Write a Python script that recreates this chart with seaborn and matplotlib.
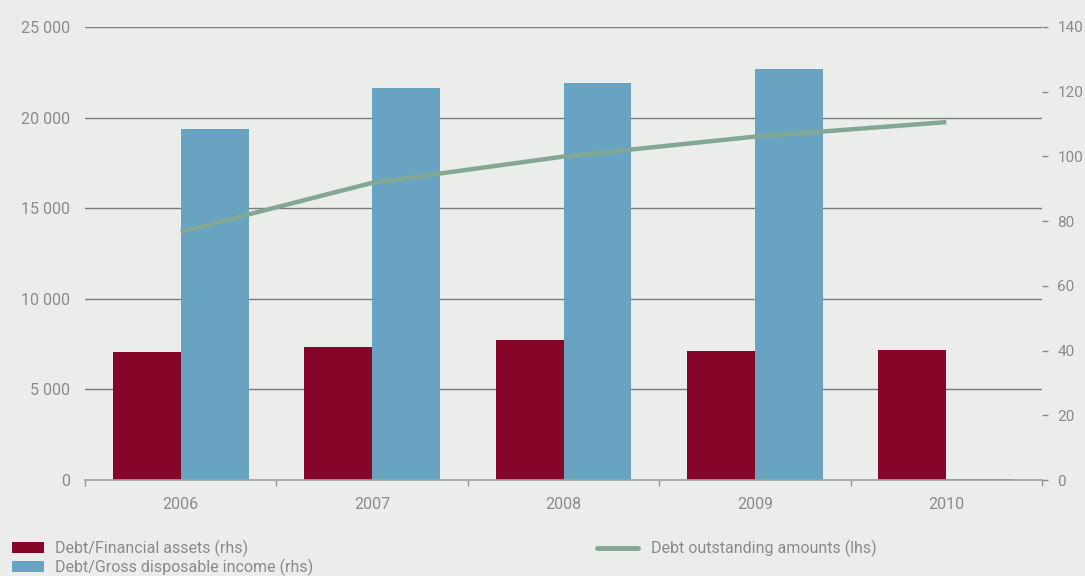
import numpy as np
import pandas as pd
import matplotlib
matplotlib.use("Agg")
import matplotlib.pyplot as plt
import seaborn as sns
from matplotlib.patches import Patch
from matplotlib.lines import Line2D

# data
years = ["2006", "2007", "2008", "2009", "2010"]
debt_fin_assets = [39.6, 41.1, 43.3, 39.9, 40.2]          # rhs
debt_gross_income = [108.5, 121.1, 122.7, 127.0, 0.4]     # rhs
debt_outstanding = [13700, 16400, 17850, 18950, 19750]    # lhs

left_ticks = [0, 5000, 10000, 15000, 20000, 25000]
right_ticks = [0, 20, 40, 60, 80, 100, 120, 140]
series_names = ["Debt/Financial assets (rhs)", "Debt/Gross disposable income (rhs)"]
line_name = "Debt outstanding amounts (lhs)"

BG = "#ebedeb"
MAROON = "#850628"
BLUE = "#68a3c1"
GREEN = "#82a894"
GREY = "#8a8a8a"

sns.set_theme(style="white")
plt.rcParams["font.family"] = ["Roboto", "DejaVu Sans"]

bars = pd.DataFrame({
    "year": years * 2,
    "value": debt_fin_assets + debt_gross_income,
    "series": [series_names[0]] * len(years) + [series_names[1]] * len(years),
})

fig = plt.figure(figsize=(10.85, 5.76), dpi=100, facecolor=BG)
ax = fig.add_axes([85 / 1085, 1 - 480 / 576, (1042 - 85) / 1085, (480 - 27) / 576])
ax.set_facecolor(BG)

# gridlines belong to the left scale, drawn on the bar axis so bars cover them
lmax, rmax = left_ticks[-1], right_ticks[-1]
for t in left_ticks[1:]:
    ax.axhline(t * rmax / lmax, color="#7a7a7a", lw=1.0, zorder=0)

sns.barplot(data=bars, x="year", y="value", hue="series",
            palette=[MAROON, BLUE], width=0.71, saturation=1,
            linewidth=0, ax=ax, legend=False, zorder=2)
ax.set_ylim(0, rmax)
ax.set_xlim(-0.5, len(years) - 0.5)

# x axis: labels at centres, ticks at the category boundaries
ax.set_xticks(range(len(years)))
ax.set_xticklabels(years)
ax.tick_params(axis="x", length=0, labelcolor=GREY, labelsize=11.5, pad=12)
ax.set_xticks(np.arange(len(years) + 1) - 0.5, minor=True)
ax.tick_params(axis="x", which="minor", length=4, width=1, color="#999999",
               bottom=True)
ax.set_xlabel("")
ax.set_ylabel("")
for side in ["top", "left", "right"]:
    ax.spines[side].set_visible(False)
ax.spines["bottom"].set_color("#a0a0a0")
ax.spines["bottom"].set_linewidth(1.2)
ax.spines["bottom"].set_zorder(3)

# line on the left scale, on top of the bars
ax2 = ax.twinx()
sns.lineplot(x=np.arange(len(years)), y=debt_outstanding, ax=ax2,
             color=GREEN, lw=3.2, solid_capstyle="butt")
ax2.set_ylim(0, lmax)
ax2.yaxis.tick_left()
ax2.yaxis.set_label_position("left")
ax2.set_yticks(left_ticks)
ax2.set_yticklabels([f"{t:,}".replace(",", " ") for t in left_ticks])
ax2.tick_params(axis="y", length=0, labelcolor=GREY, labelsize=11.5, pad=11,
                left=True, right=False, labelleft=True, labelright=False)
ax2.set_ylabel("")
for side in ax2.spines:
    ax2.spines[side].set_visible(False)

# bar scale on the right (after twinx, which moves it to the left)
ax.yaxis.tick_right()
ax.set_yticks(right_ticks)
ax.set_yticklabels([str(t) for t in right_ticks])
ax.tick_params(axis="y", length=4, width=1, color=GREY, labelcolor=GREY,
               labelsize=11, pad=7, right=True, left=False,
               labelright=True, labelleft=False)

# legend
bar_handles = [Patch(facecolor=MAROON, edgecolor="none"),
               Patch(facecolor=BLUE, edgecolor="none")]
fig.legend(bar_handles, series_names, loc="upper left",
           bbox_to_anchor=(7 / 1085, 1 - 535 / 576), frameon=False,
           fontsize=11.5, labelcolor=GREY, handlelength=2.0,
           handleheight=0.7, handletextpad=0.7, labelspacing=0.1,
           borderaxespad=0, borderpad=0.3)
line_handle = [Line2D([0], [0], color=GREEN, lw=3.5, solid_capstyle="round")]
fig.legend(line_handle, [line_name], loc="upper left",
           bbox_to_anchor=(592 / 1085, 1 - 535 / 576), frameon=False,
           fontsize=11.5, labelcolor=GREY, handlelength=2.6,
           handletextpad=0.8, borderaxespad=0, borderpad=0.3)

fig.savefig("out.png", dpi=100, facecolor=BG)
